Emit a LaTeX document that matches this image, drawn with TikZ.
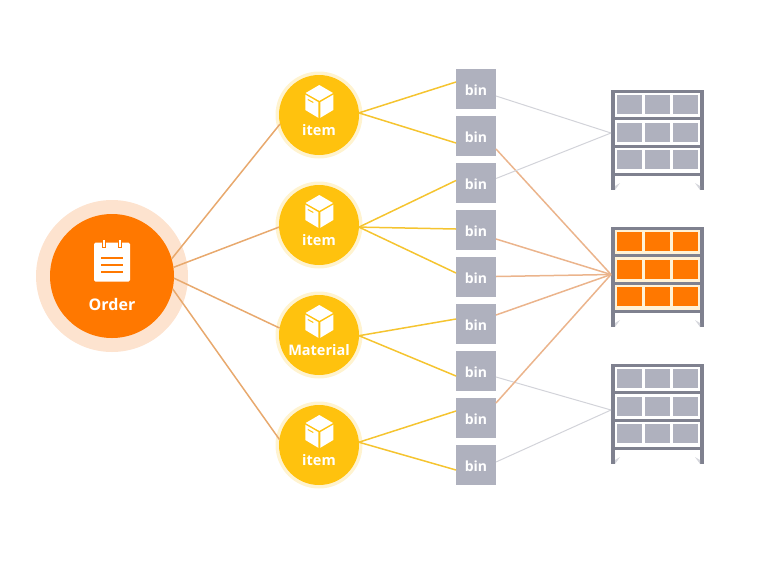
\documentclass[tikz,border=0pt]{standalone}
\usepackage{fontspec}
\setmainfont{Open Sans}
\definecolor{orangemain}{HTML}{FF7800}
\definecolor{orangehalo}{HTML}{FDE3CF}
\definecolor{yellowmain}{HTML}{FFC20E}
\definecolor{yellowhalo}{HTML}{FFF3CF}
\definecolor{binfill}{HTML}{AFB1BE}
\definecolor{framegrey}{HTML}{7F818F}
\definecolor{linetrunk}{HTML}{E8A96E}
\definecolor{lineyellow}{HTML}{F5C430}
\definecolor{lineorange}{HTML}{EBB48C}
\definecolor{linegrey}{HTML}{D2D3D9}
\definecolor{cream}{HTML}{FFF2D6}
\definecolor{footgrey}{HTML}{D5D6DC}
\tikzset{
  orderhalo/.style={circle,fill=orangehalo,minimum size=152pt,inner sep=0pt,outer sep=0pt},
  ordercore/.style={circle,fill=orangemain,minimum size=124pt,inner sep=0pt,outer sep=0pt},
  itemhalo/.style={circle,fill=yellowhalo,minimum size=87pt,inner sep=0pt,outer sep=0pt},
  itemcore/.style={circle,fill=yellowmain,minimum size=80pt,inner sep=0pt,outer sep=0pt},
  binbox/.style={rectangle,fill=binfill,minimum size=40pt,inner sep=0pt,outer sep=0pt},
  bintext/.style={text=white,inner sep=0pt,font=\fontsize{14}{16}\selectfont\bfseries},
  caption/.style={text=white,inner sep=0pt,font=\fontsize{14.5}{16}\selectfont\bfseries},
  shelfbox/.style={rectangle,minimum width=93pt,minimum height=100pt,inner sep=0pt,outer sep=0pt},
  trunk/.style={draw=linetrunk,line width=1.5pt},
  ylink/.style={draw=lineyellow,line width=1.5pt},
  olink/.style={draw=lineorange,line width=1.5pt},
  glink/.style={draw=linegrey,line width=1pt},
  pics/boxicon/.style={code={
    \fill[white] (0,-30) -- (13.7,-22) -- (0,-14.2) -- (-13.7,-22) -- cycle;
    \fill[white] (-14,-20.3) -- (-1,-12.8) -- (-1,2.8) -- (-14,-5) -- cycle;
    \fill[white] (14,-20.3) -- (1,-12.8) -- (1,2.8) -- (14,-5) -- cycle;
    \draw[yellowmain,line width=1pt] (-11.5,-15.5) -- (-6,-12.5);
  }},
  pics/shelfart/.style 2 args={code={
    \fill[#2] (4,3) rectangle (89,83);
    \fill[framegrey] (0,0) rectangle (4,100);
    \fill[framegrey] (89,0) rectangle (93,100);
    \fill[framegrey] (0,0) rectangle (93,3.3);
    \fill[framegrey] (0,26.7) rectangle (93,30);
    \fill[framegrey] (0,54.7) rectangle (93,57.7);
    \fill[framegrey] (0,82.7) rectangle (93,86);
    \foreach \cy in {5,32.7,60}{
      \foreach \cx in {6,34,62}{
        \fill[#1] (\cx,\cy) rectangle ++(25.3,19);
      }
    }
    \fill[footgrey] (4,100) -- (9,93) -- (4,96) -- cycle;
    \fill[footgrey] (89,100) -- (84,93) -- (89,96) -- cycle;
  }}
}
\begin{document}
\begin{tikzpicture}[x=1pt,y=-1pt]
\useasboundingbox (0,0) rectangle (770,560);
% halos
\node[orderhalo] (ordh) at (112,276) {};
\foreach \n/\y in {1/115,2/225,3/335,4/445}{\node[itemhalo] (ih\n) at (319,\y) {};}
% core nodes
\node[ordercore] (ord) at (112,276) {};
\node[itemcore] (i1) at (319,115) {};
\node[itemcore] (i2) at (319,225) {};
\node[itemcore] (i3) at (319,335) {};
\node[itemcore] (i4) at (319,445) {};
\foreach \n/\y in {1/89,2/136,3/183,4/230,5/277,6/324,7/371,8/418,9/465}{
  \node[binbox] (b\n) at (476,\y) {};
  \node[bintext] (bt\n) at (476,\y+1) {bin};
}
\node[shelfbox] (s1) at (657.5,140) {};
\node[shelfbox] (s2) at (657.5,277) {};
\node[shelfbox] (s3) at (657.5,414) {};
% shelves
\pic at (611,90) {shelfart={binfill}{white}};
\pic at (611,227) {shelfart={orangemain}{cream}};
\pic at (611,364) {shelfart={binfill}{white}};
% order links
\draw[trunk] (ord.16) -- (i1.193);
\draw[trunk] (ord.8) -- (i2.183);
\draw[trunk] (ord.-2) -- (i3.170);
\draw[trunk] (ord.-12) -- (i4.172);
% item links
\draw[ylink] (i1.3) -- ([yshift=7pt]b1.west);
\draw[ylink] (i1.3) -- ([yshift=-7pt]b2.west);
\draw[ylink] (i2.-3) -- ([yshift=2.5pt]b3.west);
\draw[ylink] (i2.-3) -- ([yshift=1pt]b4.west);
\draw[ylink] (i2.-3) -- ([yshift=4pt]b5.west);
\draw[ylink] (i3.-1) -- ([yshift=5pt]b6.west);
\draw[ylink] (i3.-1) -- ([yshift=-5pt]b7.west);
\draw[ylink] (i4.4) -- ([yshift=7pt]b8.west);
\draw[ylink] (i4.4) -- ([yshift=-5pt]b9.west);
% bin links
\draw[glink] ([yshift=-7pt]b1.east) -- ([yshift=7pt]s1.west);
\draw[olink] ([yshift=-13pt]b2.east) -- ([yshift=2.5pt]s2.west);
\draw[glink] ([yshift=4.5pt]b3.east) -- ([yshift=7pt]s1.west);
\draw[olink] ([yshift=-9pt]b4.east) -- ([yshift=2.5pt]s2.west);
\draw[olink] ([yshift=0.5pt]b5.east) -- ([yshift=2.5pt]s2.west);
\draw[olink] ([yshift=9pt]b6.east) -- ([yshift=2.5pt]s2.west);
\draw[glink] ([yshift=-6pt]b7.east) -- ([yshift=4pt]s3.west);
\draw[olink] ([yshift=15pt]b8.east) -- ([yshift=2.5pt]s2.west);
\draw[glink] ([yshift=3pt]b9.east) -- ([yshift=4pt]s3.west);
% order icon
\fill[white,rounded corners=1.5pt] (94,242.7) rectangle (130,281.7);
\fill[orangemain] (102.3,240) rectangle (106,248);
\fill[orangemain] (117.8,240) rectangle (121.5,248);
\fill[white] (103.2,239.5) rectangle (105.1,246.5);
\fill[white] (118.7,239.5) rectangle (120.6,246.5);
\foreach \ly in {256.7,263.7,270.7}{\fill[orangemain] (101,\ly) rectangle (123,\ly+2);}
\node[text=white,inner sep=0pt,font=\fontsize{16}{18}\selectfont\bfseries] (ordt) at (112,304.5) {Order};
% item icons and captions
\pic at (319.3,115) {boxicon};
\pic at (319.3,225) {boxicon};
\pic at (319.3,335) {boxicon};
\pic at (319.3,445) {boxicon};
\node[caption] (t1) at (319,130) {item};
\node[caption] (t2) at (319,240) {item};
\node[caption] (t3) at (319,350) {Material};
\node[caption] (t4) at (319,460) {item};
\end{tikzpicture}
\end{document}
